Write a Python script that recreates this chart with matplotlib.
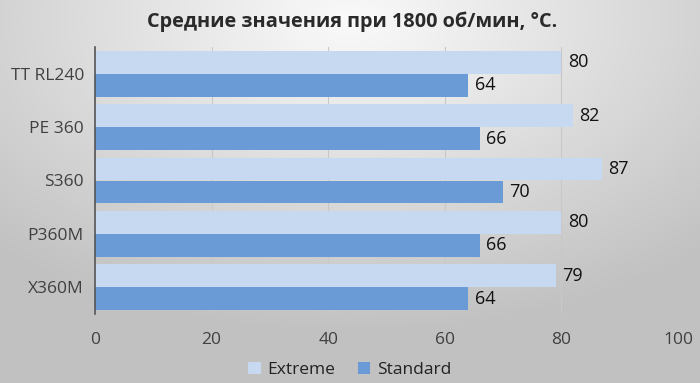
import numpy as np
import matplotlib.pyplot as plt

# Data
categories = ['TT RL240', 'PE 360', 'S360', 'P360M', 'X360M']
extreme = [80, 82, 87, 80, 79]
standard = [64, 66, 70, 66, 64]
x_ticks = [0, 20, 40, 60, 80, 100]

plt.rcParams['font.family'] = ['Open Sans', 'DejaVu Sans']

fig = plt.figure(figsize=(7, 3.83), dpi=100)

# Gradient background (light at top centre, greyer to the corners)
bg = fig.add_axes([0, 0, 1, 1], zorder=-10)
gx, gy = np.meshgrid(np.linspace(0, 1, 350), np.linspace(0, 1, 192))
r = np.sqrt(((gx - 0.5) * 1.0) ** 2 + ((gy - 0.05) * 0.9) ** 2)
shade = np.clip(0.98 - 0.30 * r, 0.76, 0.98)
bg.imshow(np.dstack([shade, shade, shade]), extent=[0, 1, 0, 1], aspect='auto', origin='upper')
bg.axis('off')

ax = fig.add_axes([95 / 700, (383 - 314) / 383, (678 - 95) / 700, (314 - 47) / 383])
ax.patch.set_alpha(0)

y = np.arange(len(categories))
h = 0.43
b1 = ax.barh(y - h / 2, extreme, height=h, color='#c6d9f1', label='Extreme', zorder=2)
b2 = ax.barh(y + h / 2, standard, height=h, color='#6a9bd6', label='Standard', zorder=2)

for bars in (b1, b2):
    for bar in bars:
        ax.text(bar.get_width() + 1.1, bar.get_y() + bar.get_height() / 2,
                f'{bar.get_width():.0f}', va='center', ha='left', fontsize=13, color='#111111')

ax.set_xlim(0, 100)
ax.set_ylim(len(categories) - 0.5, -0.5)
ax.set_xticks(x_ticks)
ax.set_xticklabels([str(t) for t in x_ticks])
ax.set_yticks(y)
ax.set_yticklabels(categories)
ax.xaxis.grid(True, color='#c8c8c8', linewidth=0.8, zorder=0)
ax.tick_params(axis='x', length=0, pad=13, labelsize=12.5, labelcolor='#404040')
ax.tick_params(axis='y', length=0, pad=8, labelsize=12.5, labelcolor='#404040')
for s in ['top', 'right', 'bottom']:
    ax.spines[s].set_visible(False)
ax.spines['left'].set_color('#555555')
ax.spines['left'].set_linewidth(1.2)

fig.text(0.503, 0.942, 'Средние значения при 1800 об/мин, °C.', ha='center', va='center',
         fontsize=14.3, fontweight='bold', color='#2a2a2a')

fig.legend(handles=[b1, b2], loc='center', bbox_to_anchor=(0.5, 0.033), ncol=2, frameon=False,
           fontsize=12.5, handlelength=0.7, handleheight=0.7, handletextpad=0.4, columnspacing=1.3,
           labelcolor='#222222')

fig.savefig('out.png', dpi=100)
